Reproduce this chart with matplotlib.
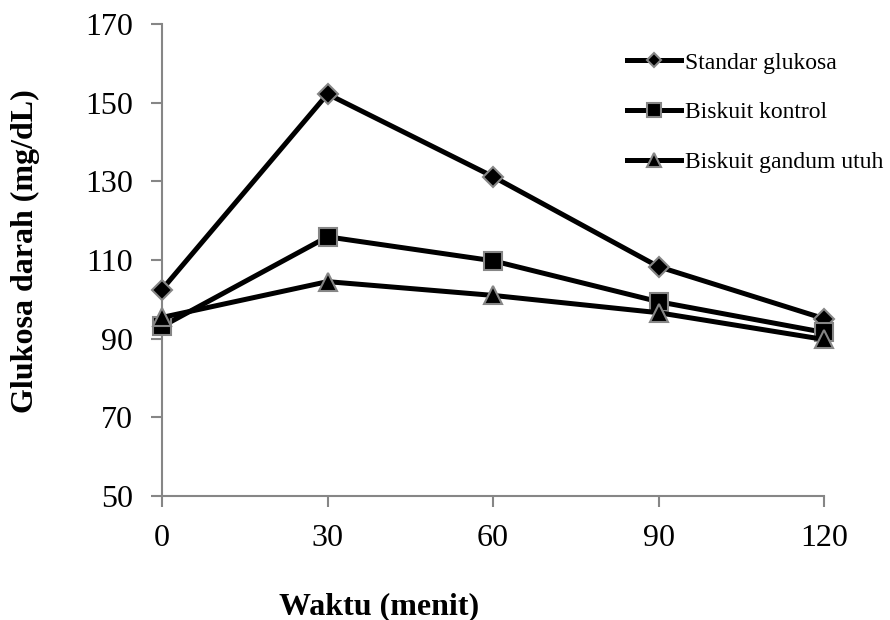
import matplotlib
matplotlib.use("Agg")
import matplotlib.pyplot as plt

waktu = [0, 30, 60, 90, 120]
standar_glukosa = [102.5, 152.2, 131.2, 108.3, 95.1]
biskuit_kontrol = [93.1, 115.9, 109.8, 99.4, 91.6]
biskuit_gandum = [95.4, 104.5, 101.0, 96.6, 89.8]
labels = ["Standar glukosa", "Biskuit kontrol", "Biskuit gandum utuh"]
y_ticks = [50, 70, 90, 110, 130, 150, 170]
x_ticks = [0, 30, 60, 90, 120]

plt.rcParams['font.family'] = ['Liberation Serif', 'DejaVu Serif']

fig = plt.figure(figsize=(8.9, 6.2), dpi=100)
ax = fig.add_axes([162/890, 1-496/620, (824-162)/890, (496-24)/620])

gray = '#868686'
series = [standar_glukosa, biskuit_kontrol, biskuit_gandum]
markers = ['D', 's', '^']
msizes = [10, 13.5, 12.5]
for vals, m, ms, lab in zip(series, markers, msizes, labels):
    ax.plot(waktu, vals, color='black', linewidth=3.6, marker=m, markersize=ms,
            markerfacecolor='black', markeredgecolor=gray, markeredgewidth=1.5,
            label=lab, clip_on=False, zorder=3)

ax.set_xlim(0, 120)
ax.set_ylim(50, 170)
ax.set_xticks(x_ticks)
ax.set_yticks(y_ticks)
ax.tick_params(axis='both', labelsize=23, color=gray, width=1.5, length=8, direction='out')
ax.tick_params(axis='x', pad=12)
ax.tick_params(axis='y', pad=13)
for s in ['top', 'right']:
    ax.spines[s].set_visible(False)
for s in ['left', 'bottom']:
    ax.spines[s].set_color(gray)
    ax.spines[s].set_linewidth(1.5)

ax.set_xlabel("Waktu (menit)", fontsize=23, fontweight='bold')
ax.xaxis.set_label_coords((379-162)/662, -(592-496)/472)
ax.set_ylabel("Glukosa darah (mg/dL)", fontsize=23, fontweight='bold')
ax.yaxis.set_label_coords((40-162)/662, (496-251)/472)

leg = ax.legend(loc='upper left', bbox_to_anchor=(620/890, 1-45/620),
                bbox_transform=fig.transFigure, frameon=False, fontsize=17,
                handlelength=2.3, handletextpad=0.15, labelspacing=1.2,
                markerscale=0.75, borderaxespad=0, borderpad=0.3)

fig.savefig("out.png", dpi=100)
